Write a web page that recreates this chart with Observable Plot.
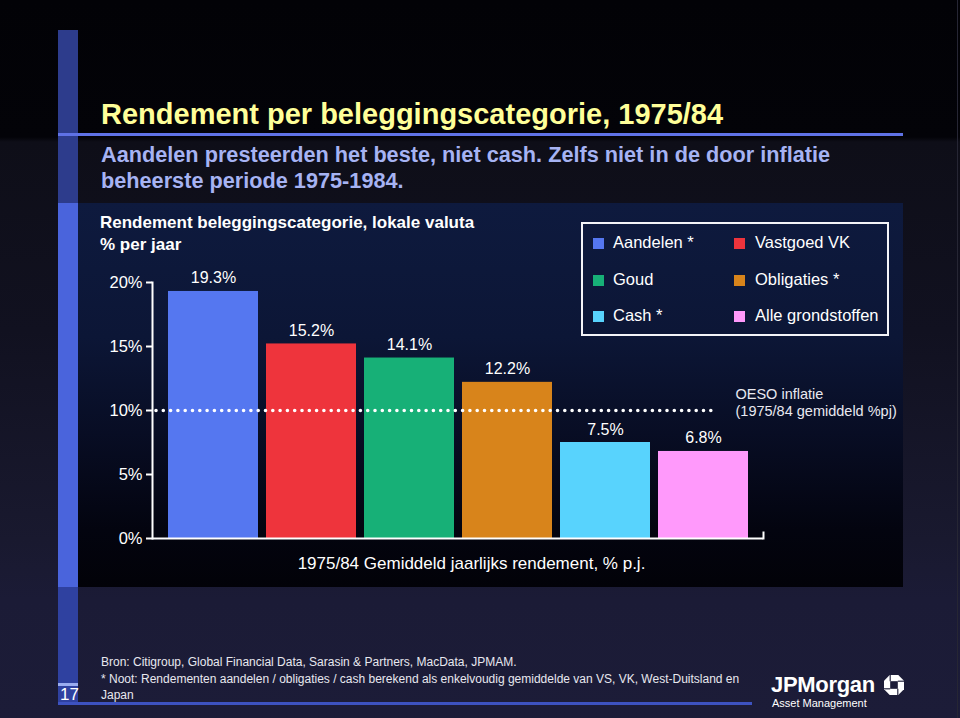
<!DOCTYPE html>
<html><head><meta charset="utf-8">
<script src="https://cdn.jsdelivr.net/npm/d3@7"></script>
<script src="https://cdn.jsdelivr.net/npm/@observablehq/plot@0.6"></script>
<style>
html,body{margin:0;padding:0;}
body{width:960px;height:718px;overflow:hidden;position:relative;font-family:"Liberation Sans",Arial,Helvetica,sans-serif;
 background:linear-gradient(to bottom,#020206 0px,#030308 137px,#0e0e18 142px,#111120 330px,#19192f 540px,#1b1b36 600px,#1c1c38 718px);}
.abs{position:absolute;white-space:nowrap;}
#panel{left:78px;top:203px;width:825px;height:384px;background:linear-gradient(to bottom,#0e1a3e 0%,#0c1636 35%,#080d24 60%,#03040f 85%,#020208 100%);}
#chart{left:80px;top:203px;width:823px;height:384px;}
#chart svg{display:block;}
.txt{line-height:1;color:#fff;}
</style></head>
<body>
<div class="abs" id="panel"></div>
<div class="abs" style="left:58px;top:30px;width:20px;height:173px;background:#2d3c8c;"></div>
<div class="abs" style="left:58px;top:203px;width:20px;height:384px;background:#4a64dc;"></div>
<div class="abs" style="left:58px;top:587px;width:20px;height:116px;background:#2f41a0;"></div>
<div class="abs" style="left:58px;top:683px;width:20px;height:3px;background:#9aacef;"></div>
<div class="abs" style="left:58px;top:702px;width:694px;height:3px;background:#3d52c0;"></div>
<div class="abs" style="left:58px;top:133px;width:845px;height:3px;background:#5f72e6;"></div>
<div class="abs" style="left:957px;top:0px;width:1px;height:718px;background:#262634;"></div>

<div class="abs txt" id="title" style="left:101px;top:100px;font-size:29px;font-weight:bold;color:#ffff99;"></div>
<div class="abs" id="subtitle" style="left:101px;top:141.5px;font-size:21.7px;line-height:26px;font-weight:bold;color:#a6b3f3;"></div>

<div class="abs txt" id="h1" style="left:100px;top:213.5px;font-size:17px;font-weight:bold;"></div>
<div class="abs txt" id="h2" style="left:100px;top:235.5px;font-size:17px;font-weight:bold;"></div>

<div class="abs" id="chart"></div>

<div class="abs" style="left:581px;top:222px;width:304px;height:110px;border:2px solid #f4f4f8;"></div>
<div id="legend"></div>

<div class="abs txt" id="foot1" style="left:101px;top:655.8px;font-size:12px;color:#e8e8ef;"></div>
<div class="abs txt" id="foot2" style="left:101px;top:672.8px;font-size:12px;color:#e8e8ef;"></div>
<div class="abs txt" id="foot3" style="left:101px;top:688.8px;font-size:12px;color:#e8e8ef;"></div>
<div class="abs txt" style="left:60px;top:685.6px;font-size:17px;">17</div>

<div class="abs txt" style="left:771px;top:673.5px;font-size:22px;font-weight:bold;letter-spacing:-0.3px;">JPMorgan</div>
<svg class="abs" style="left:884px;top:675px;" width="20" height="20" viewBox="0 0 21 21">
 <polygon points="6,0 15,0 21,6 21,15 15,21 6,21 0,15 0,6" fill="#fff"/>
 <rect x="6.5" y="6.5" width="8" height="8" fill="#1c1c38"/>
 <line x1="6.5" y1="0" x2="6.5" y2="6.5" stroke="#1c1c38" stroke-width="1.2"/>
 <line x1="21" y1="6.5" x2="14.5" y2="6.5" stroke="#1c1c38" stroke-width="1.2"/>
 <line x1="14.5" y1="21" x2="14.5" y2="14.5" stroke="#1c1c38" stroke-width="1.2"/>
 <line x1="0" y1="14.5" x2="6.5" y2="14.5" stroke="#1c1c38" stroke-width="1.2"/>
</svg>
<div class="abs txt" style="left:772px;top:697.7px;font-size:11px;">Asset Management</div>

<script>
// ---- data ----
const titleText = "Rendement per beleggingscategorie, 1975/84";
const subtitleLines = ["Aandelen presteerden het beste, niet cash. Zelfs niet in de door inflatie", "beheerste periode 1975-1984."];
const chartHeading = "Rendement beleggingscategorie, lokale valuta";
const chartUnit = "% per jaar";
const categories = ["Aandelen *", "Vastgoed VK", "Goud", "Obligaties *", "Cash *", "Alle grondstoffen"];
const values = [19.3, 15.2, 14.1, 12.2, 7.5, 6.8];
const colors = ["#5577f0", "#ee343c", "#17b077", "#d8841b", "#58d3fd", "#ff99fb"];
const inflation = 10;
const inflationLabel = "OESO inflatie\n(1975/84 gemiddeld %pj)";
const yTicks = [0, 5, 10, 15, 20];
const xCaption = "1975/84 Gemiddeld jaarlijks rendement, % p.j.";
const footnotes = [
  "Bron: Citigroup, Global Financial Data, Sarasin & Partners, MacData, JPMAM.",
  "* Noot: Rendementen aandelen / obligaties / cash berekend als enkelvoudig gemiddelde van VS, VK, West-Duitsland en",
  "Japan"
];

document.getElementById("title").textContent = titleText;
document.getElementById("subtitle").innerHTML = subtitleLines.map(s => s.replace(/&/g,"&amp;")).join("<br>");
document.getElementById("h1").textContent = chartHeading;
document.getElementById("h2").textContent = chartUnit;
["foot1","foot2","foot3"].forEach((id, i) => document.getElementById(id).textContent = footnotes[i]);

const data = categories.map((c, i) => ({category: c, value: values[i]}));

const chart = Plot.plot({
  width: 823, height: 384,
  marginLeft: 72, marginRight: 140, marginTop: 79, marginBottom: 49,
  style: {background: "transparent", color: "white", fontFamily: "'Liberation Sans', Arial, sans-serif", fontSize: "16px", overflow: "visible"},
  x: {domain: categories, paddingInner: 0.085, paddingOuter: 0.147, axis: null},
  y: {domain: [0, 20], axis: null},
  color: {domain: categories, range: colors},
  marks: [
    Plot.barY(data, {x: "category", y: "value", fill: "category"}),
    Plot.ruleY([inflation], {stroke: "white", strokeWidth: 3.6, strokeDasharray: "0 7.3", strokeLinecap: "round", insetLeft: 4, insetRight: 51}),
    Plot.text(data, {x: "category", y: "value", text: d => d.value.toFixed(1) + "%", dy: -8, lineAnchor: "bottom", fill: "white", fontSize: 16}),
    Plot.ruleY([0], {stroke: "white", strokeWidth: 2}),
    Plot.frame({anchor: "left", stroke: "white", strokeWidth: 2}),
    Plot.frame({anchor: "right", stroke: "white", strokeWidth: 2, insetTop: 250}),
    Plot.axisY({ticks: yTicks, tickFormat: d => d + "%", tickSize: 6, tickPadding: 4, fontSize: 16.5, color: "white", strokeWidth: 2}),
    Plot.text([{label: inflationLabel, y: inflation}], {y: "y", text: "label", frameAnchor: "right", textAnchor: "start", dx: -28, dy: -8.5, fontSize: 14.5, fill: "#e8e8f0", lineHeight: 1.15}),
    Plot.text([xCaption], {text: d => d, frameAnchor: "bottom", dx: 13.5, dy: 30, fontSize: 17, fill: "white"})
  ]
});
document.getElementById("chart").appendChild(chart);

// legend built from the same arrays
const legend = document.getElementById("legend");
categories.forEach((c, i) => {
  const row = Math.floor(i / 2), col = i % 2;
  const cy = 243.5 + row * 36.7;
  const sq = document.createElement("div");
  sq.className = "abs";
  sq.style.cssText = `left:${593 + col * 141}px;top:${cy - 5.5}px;width:11px;height:11px;background:${colors[i]};`;
  legend.appendChild(sq);
  const t = document.createElement("div");
  t.className = "abs txt";
  t.style.cssText = `left:${613 + col * 142}px;top:${cy + 4.5 - 0.85 * 16.5}px;font-size:16.5px;`;
  t.textContent = c;
  legend.appendChild(t);
});
</script>
</body></html>
